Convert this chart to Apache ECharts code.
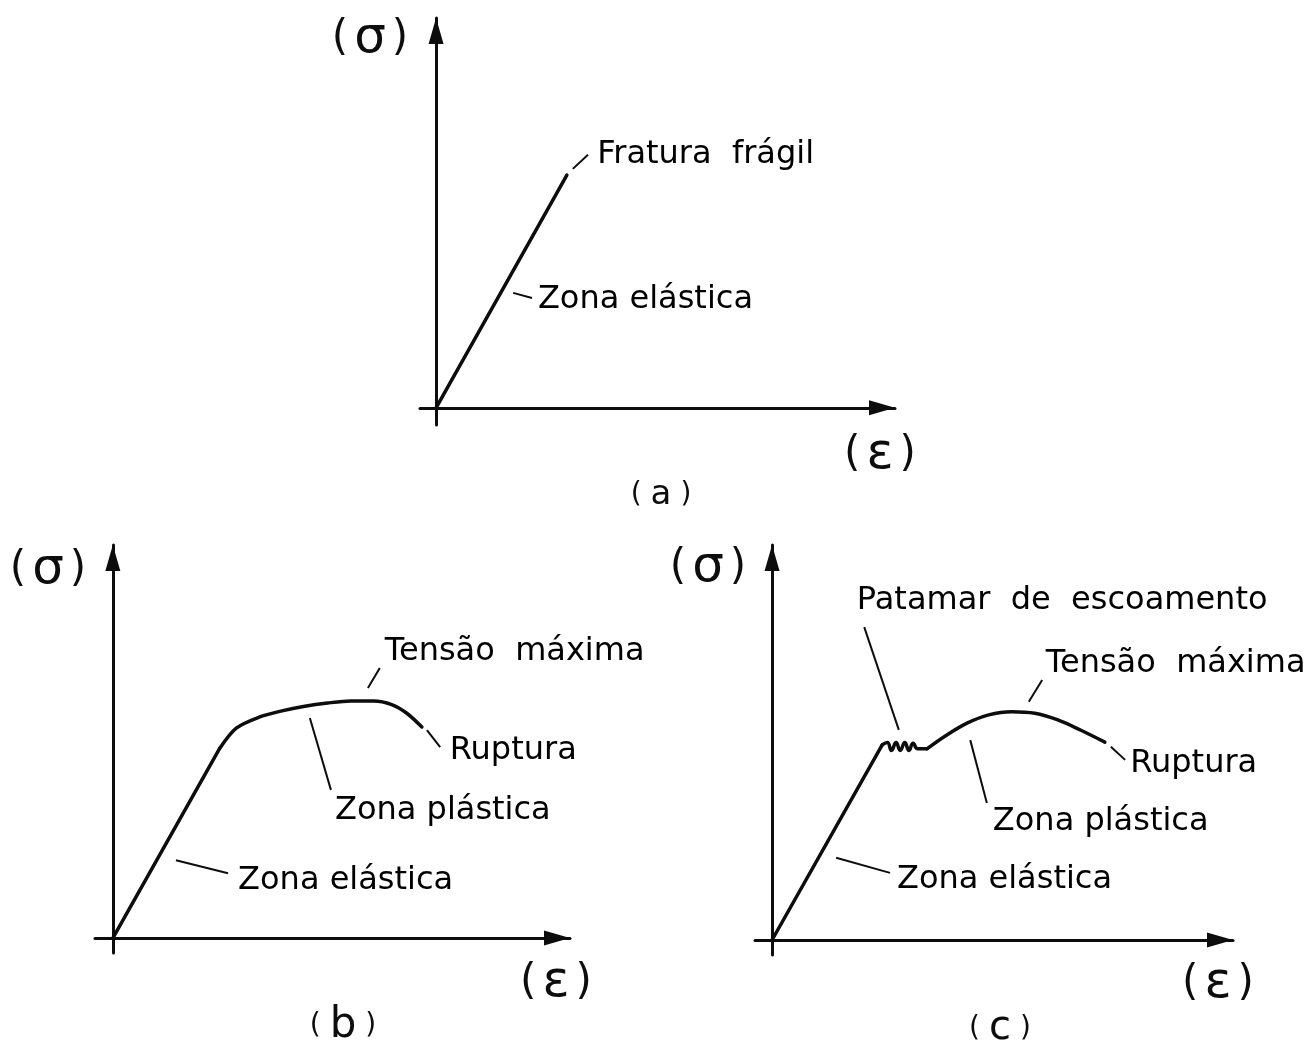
<!DOCTYPE html>
<html>
<head>
<meta charset="utf-8">
<script src="https://cdn.jsdelivr.net/npm/echarts@6/dist/echarts.min.js"></script>
<style>
  html, body { margin: 0; padding: 0; background: #ffffff; }
  #chart { width: 1314px; height: 1046px; }
</style>
</head>
<body>
<div id="chart"></div>
<script>
// Stress (σ) versus strain (ε), arbitrary units: 0–100 on each axis.

// (a) brittle material: elastic line up to brittle fracture
const elasticA = [[0, 0], [28.5, 59.7]];
const labelsA = ['Fratura  frágil', 'Zona elástica'];
const anchorsA = [[35.1, 64.9], [22.2, 27.7]];
const leadersA = [[[29.8, 61.3], [33.1, 64.9]], [[16.8, 29.5], [20.9, 28.2]]];

// (b) ductile material without yield plateau
const elasticB = [[0, 0], [23.4, 48.3]];
const plasticB = [[23.4, 48.3], [27.0, 53.4], [32.0, 56.2], [37.0, 57.8], [42.0, 59.0],
                  [47.0, 59.8], [52.0, 60.3], [57.0, 60.3], [61.0, 59.4], [64.3, 57.2], [67.6, 53.7]];
const labelsB = ['Tensão  máxima', 'Ruptura', 'Zona plástica', 'Zona elástica'];
const anchorsB = [[59.5, 72.8], [73.7, 47.6], [48.6, 32.3], [27.4, 14.5]];
const leadersB = [[[55.8, 63.6], [58.4, 68.7]], [[68.7, 52.9], [71.6, 48.6]],
                  [[43.1, 56.0], [47.7, 37.7]], [[13.8, 19.8], [25.2, 16.5]]];

// (c) ductile material with yield plateau
const elasticC = [[0, 0], [23.9, 49.4]];
const yieldC = [[23.9, 49.4], [25.0, 50.0], [25.9, 48.0], [26.9, 50.0], [27.8, 48.0],
                [28.8, 50.0], [29.7, 48.0], [30.6, 49.8], [31.6, 48.4], [33.6, 48.4]];
const plasticC = [[33.6, 48.4], [37.5, 51.6], [42.3, 54.9], [47.0, 57.0], [52.0, 57.8],
                  [57.0, 57.4], [62.0, 55.7], [67.0, 53.1], [72.2, 50.1]];
const labelsC = ['Patamar  de  escoamento', 'Tensão  máxima', 'Ruptura', 'Zona plástica', 'Zona elástica'];
const anchorsC = [[18.4, 85.8], [59.4, 69.9], [77.7, 44.6], [47.9, 29.9], [27.1, 15.2]];
const leadersC = [[[20.0, 79.2], [27.5, 53.2]], [[55.7, 60.3], [58.6, 65.8]],
                  [[73.5, 48.9], [76.6, 45.6]], [[43.0, 50.6], [46.6, 34.7]],
                  [[13.9, 20.8], [25.6, 17.0]]];

const INK = '#0d0d0d';
const FONT = 'DejaVu Sans';

function makeAxis(gridIndex, min) {
  return {
    type: 'value', gridIndex: gridIndex, min: min, max: 100,
    axisLine: {
      show: true, onZero: true,
      symbol: ['none', 'triangle'], symbolSize: [15, 26], symbolOffset: [0, -13],
      lineStyle: { color: INK, width: 3 }
    },
    axisTick: { show: false }, axisLabel: { show: false }, splitLine: { show: false }
  };
}

function curve(idx, data, smooth) {
  return {
    type: 'line', xAxisIndex: idx, yAxisIndex: idx, data: data,
    smooth: smooth, showSymbol: false, symbol: 'none', silent: true,
    lineStyle: { color: INK, width: 3.5, cap: 'round', join: 'round' }
  };
}

function leaders(idx, segs) {
  return {
    type: 'lines', coordinateSystem: 'cartesian2d', xAxisIndex: idx, yAxisIndex: idx,
    silent: true, data: segs.map(s => ({ coords: s })),
    lineStyle: { color: INK, width: 2, opacity: 1, curveness: 0 }
  };
}

function labels(idx, texts, anchors) {
  return {
    type: 'scatter', xAxisIndex: idx, yAxisIndex: idx, symbolSize: 0, silent: true,
    itemStyle: { opacity: 1 },
    data: anchors.map((a, i) => ({ name: texts[i], value: a })),
    label: {
      show: true, position: 'right', distance: 0, formatter: '{b}', opacity: 1,
      fontFamily: FONT, fontSize: 32, fontWeight: 'normal', color: '#000000',
      textBorderWidth: 0
    }
  };
}

function sigmaText(x, y) {
  return {
    type: 'text', x: x, y: y, silent: true,
    style: {
      text: '{p|(}{s|σ}{p|)}', align: 'center', verticalAlign: 'middle',
      rich: {
        p: { fontFamily: FONT, fontSize: 42, fill: INK, padding: [0, 3] },
        s: { fontFamily: FONT, fontSize: 50, fill: INK, padding: [0, 3] }
      }
    }
  };
}

function epsText(x, y) {
  return {
    type: 'text', x: x, y: y, silent: true,
    style: {
      text: '{p|(}{s|ε}{p|)}', align: 'center', verticalAlign: 'middle',
      rich: {
        p: { fontFamily: FONT, fontSize: 42, fill: INK, padding: [0, 2] },
        s: { fontFamily: FONT, fontSize: 50, fill: INK, padding: [0, 4] }
      }
    }
  };
}

function panelText(x, y, letter, size) {
  return {
    type: 'text', x: x, y: y, silent: true,
    style: {
      text: '{p|(}{l|' + letter + '}{p|)}', align: 'center', verticalAlign: 'middle',
      rich: {
        p: { fontFamily: FONT, fontSize: 28, fill: INK },
        l: { fontFamily: FONT, fontSize: size, fill: INK, padding: [0, 9] }
      }
    }
  };
}

const chart = echarts.init(document.getElementById('chart'), null, { renderer: 'canvas' });

chart.setOption({
  backgroundColor: '#ffffff',
  animation: false,
  grid: [
    { left: 420, top: 18, width: 475, height: 407, outerBoundsMode: 'none' },
    { left: 95, top: 545, width: 475, height: 408, outerBoundsMode: 'none' },
    { left: 755, top: 545, width: 478, height: 410, outerBoundsMode: 'none' }
  ],
  xAxis: [makeAxis(0, -3.5), makeAxis(1, -3.9), makeAxis(2, -3.7)],
  yAxis: [makeAxis(0, -4.4), makeAxis(1, -3.8), makeAxis(2, -3.8)],
  series: [
    curve(0, elasticA, false),
    leaders(0, leadersA),
    labels(0, labelsA, anchorsA),

    curve(1, elasticB, false),
    curve(1, plasticB, 0.3),
    leaders(1, leadersB),
    labels(1, labelsB, anchorsB),

    curve(2, elasticC, false),
    curve(2, yieldC, 0.5),
    curve(2, plasticC, 0.3),
    leaders(2, leadersC),
    labels(2, labelsC, anchorsC)
  ],
  graphic: [
    sigmaText(370, 39), epsText(880, 455), panelText(661, 495, 'a', 34),
    sigmaText(48, 570), epsText(556, 983), panelText(343, 1026, 'b', 42),
    sigmaText(708, 568), epsText(1218, 984), panelText(1000, 1029, 'c', 40)
  ]
});
</script>
</body>
</html>
